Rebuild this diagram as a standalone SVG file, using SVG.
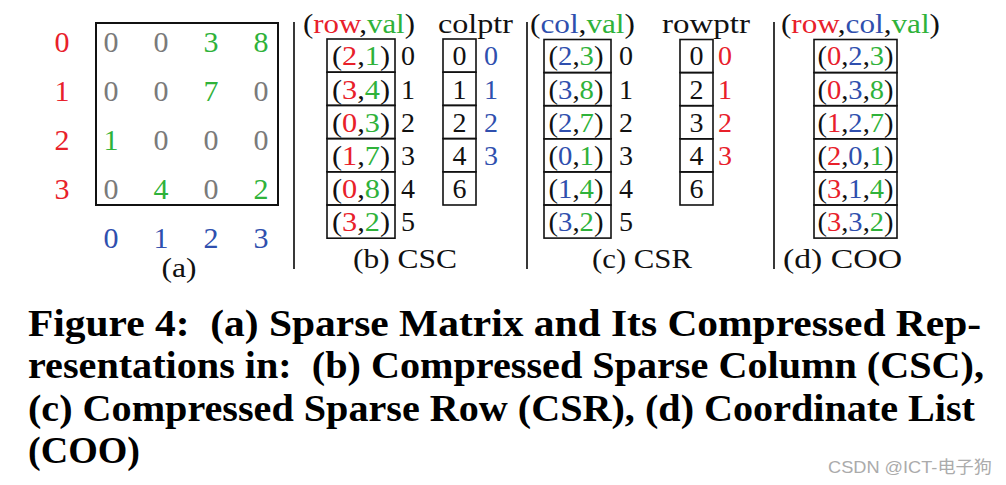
<svg xmlns="http://www.w3.org/2000/svg" width="1006" height="485" viewBox="0 0 1006 485">
<style>
text{font-family:"Liberation Serif","Times New Roman",serif;fill:#111}
.m{font-size:30px;text-anchor:middle}
.s{font-size:28px;text-anchor:middle}
.h{font-size:27px}
.r{fill:#e8202a}
.g{fill:#2fb23a}
.b{fill:#2f4fae}
.gr{fill:#7a7a7a}
.box{fill:none;stroke:#111;stroke-width:1.6}
.sep{stroke:#222;stroke-width:1.8}
.cap{font-size:38px;font-weight:bold;fill:#000;white-space:pre}
.wm{font-family:"Liberation Sans","Noto Sans CJK SC",sans-serif;font-size:17px;fill:#ababab}
</style>
<rect width="1006" height="485" fill="#fff"/>

<g id="separators">
<line class="sep" x1="294" y1="22" x2="294" y2="269"/>
<line class="sep" x1="527" y1="22" x2="527" y2="269"/>
<line class="sep" x1="774" y1="22" x2="774" y2="269"/>
</g>

<g id="matrix">
<rect x="96" y="23" width="182" height="182" fill="none" stroke="#111" stroke-width="2"/>
<text class="m r" x="62" y="51.5">0</text>
<text class="m r" x="62" y="100.8">1</text>
<text class="m r" x="62" y="150.1">2</text>
<text class="m r" x="62" y="199.4">3</text>
<text class="m gr" x="111" y="51.5">0</text><text class="m gr" x="161" y="51.5">0</text><text class="m g" x="211" y="51.5">3</text><text class="m g" x="261" y="51.5">8</text>
<text class="m gr" x="111" y="100.8">0</text><text class="m gr" x="161" y="100.8">0</text><text class="m g" x="211" y="100.8">7</text><text class="m gr" x="261" y="100.8">0</text>
<text class="m g" x="111" y="150.1">1</text><text class="m gr" x="161" y="150.1">0</text><text class="m gr" x="211" y="150.1">0</text><text class="m gr" x="261" y="150.1">0</text>
<text class="m gr" x="111" y="199.4">0</text><text class="m g" x="161" y="199.4">4</text><text class="m gr" x="211" y="199.4">0</text><text class="m g" x="261" y="199.4">2</text>
<text class="m b" x="111" y="248">0</text><text class="m b" x="161" y="248">1</text><text class="m b" x="211" y="248">2</text><text class="m b" x="261" y="248">3</text>
<text class="s" x="179" y="277" textLength="35" lengthAdjust="spacingAndGlyphs">(a)</text>
</g>

<g id="csc">
<text class="h" x="303" y="33" textLength="112" lengthAdjust="spacingAndGlyphs">(<tspan class="r">row</tspan>,<tspan class="g">val</tspan>)</text>
<text class="h" x="438" y="33" textLength="75" lengthAdjust="spacingAndGlyphs">colptr</text>
<rect class="box" x="327" y="39" width="68" height="33.2"/>
<rect class="box" x="327" y="72.2" width="68" height="33.2"/>
<rect class="box" x="327" y="105.4" width="68" height="33.2"/>
<rect class="box" x="327" y="138.6" width="68" height="33.2"/>
<rect class="box" x="327" y="171.8" width="68" height="33.2"/>
<rect class="box" x="327" y="205" width="68" height="33.2"/>
<text class="s" x="361" y="65.3" textLength="58" lengthAdjust="spacingAndGlyphs">(<tspan class="r">2</tspan>,<tspan class="g">1</tspan>)</text>
<text class="s" x="361" y="98.5" textLength="58" lengthAdjust="spacingAndGlyphs">(<tspan class="r">3</tspan>,<tspan class="g">4</tspan>)</text>
<text class="s" x="361" y="131.7" textLength="58" lengthAdjust="spacingAndGlyphs">(<tspan class="r">0</tspan>,<tspan class="g">3</tspan>)</text>
<text class="s" x="361" y="164.9" textLength="58" lengthAdjust="spacingAndGlyphs">(<tspan class="r">1</tspan>,<tspan class="g">7</tspan>)</text>
<text class="s" x="361" y="198.1" textLength="58" lengthAdjust="spacingAndGlyphs">(<tspan class="r">0</tspan>,<tspan class="g">8</tspan>)</text>
<text class="s" x="361" y="231.3" textLength="58" lengthAdjust="spacingAndGlyphs">(<tspan class="r">3</tspan>,<tspan class="g">2</tspan>)</text>
<text class="s" x="408" y="65.3">0</text><text class="s" x="408" y="98.5">1</text><text class="s" x="408" y="131.7">2</text><text class="s" x="408" y="164.9">3</text><text class="s" x="408" y="198.1">4</text><text class="s" x="408" y="231.3">5</text>
<rect class="box" x="443" y="39" width="33" height="33.2"/>
<rect class="box" x="443" y="72.2" width="33" height="33.2"/>
<rect class="box" x="443" y="105.4" width="33" height="33.2"/>
<rect class="box" x="443" y="138.6" width="33" height="33.2"/>
<rect class="box" x="443" y="171.8" width="33" height="33.2"/>
<text class="s" x="459.5" y="65.3">0</text><text class="s" x="459.5" y="98.5">1</text><text class="s" x="459.5" y="131.7">2</text><text class="s" x="459.5" y="164.9">4</text><text class="s" x="459.5" y="198.1">6</text>
<text class="s b" x="491" y="65.3">0</text><text class="s b" x="491" y="98.5">1</text><text class="s b" x="491" y="131.7">2</text><text class="s b" x="491" y="164.9">3</text>
<text class="s" x="405" y="268" textLength="104" lengthAdjust="spacingAndGlyphs">(b) CSC</text>
</g>

<g id="csr">
<text class="h" x="530" y="33" textLength="105" lengthAdjust="spacingAndGlyphs">(<tspan class="b">col</tspan>,<tspan class="g">val</tspan>)</text>
<text class="h" x="662" y="33" textLength="88" lengthAdjust="spacingAndGlyphs">rowptr</text>
<rect class="box" x="544" y="39.5" width="67" height="33.1"/>
<rect class="box" x="544" y="72.6" width="67" height="33.1"/>
<rect class="box" x="544" y="105.7" width="67" height="33.1"/>
<rect class="box" x="544" y="138.8" width="67" height="33.1"/>
<rect class="box" x="544" y="171.9" width="67" height="33.1"/>
<rect class="box" x="544" y="205" width="67" height="33.1"/>
<text class="s" x="576" y="65.3" textLength="55" lengthAdjust="spacingAndGlyphs">(<tspan class="b">2</tspan>,<tspan class="g">3</tspan>)</text>
<text class="s" x="576" y="98.5" textLength="55" lengthAdjust="spacingAndGlyphs">(<tspan class="b">3</tspan>,<tspan class="g">8</tspan>)</text>
<text class="s" x="576" y="131.7" textLength="55" lengthAdjust="spacingAndGlyphs">(<tspan class="b">2</tspan>,<tspan class="g">7</tspan>)</text>
<text class="s" x="576" y="164.9" textLength="55" lengthAdjust="spacingAndGlyphs">(<tspan class="b">0</tspan>,<tspan class="g">1</tspan>)</text>
<text class="s" x="576" y="198.1" textLength="55" lengthAdjust="spacingAndGlyphs">(<tspan class="b">1</tspan>,<tspan class="g">4</tspan>)</text>
<text class="s" x="576" y="231.3" textLength="55" lengthAdjust="spacingAndGlyphs">(<tspan class="b">3</tspan>,<tspan class="g">2</tspan>)</text>
<text class="s" x="626" y="65.3">0</text><text class="s" x="626" y="98.5">1</text><text class="s" x="626" y="131.7">2</text><text class="s" x="626" y="164.9">3</text><text class="s" x="626" y="198.1">4</text><text class="s" x="626" y="231.3">5</text>
<rect class="box" x="680" y="39.5" width="33" height="33.1"/>
<rect class="box" x="680" y="72.6" width="33" height="33.1"/>
<rect class="box" x="680" y="105.7" width="33" height="33.1"/>
<rect class="box" x="680" y="138.8" width="33" height="33.1"/>
<rect class="box" x="680" y="171.9" width="33" height="33.1"/>
<text class="s" x="696.5" y="65.3">0</text><text class="s" x="696.5" y="98.5">2</text><text class="s" x="696.5" y="131.7">3</text><text class="s" x="696.5" y="164.9">4</text><text class="s" x="696.5" y="198.1">6</text>
<text class="s r" x="725" y="65.3">0</text><text class="s r" x="725" y="98.5">1</text><text class="s r" x="725" y="131.7">2</text><text class="s r" x="725" y="164.9">3</text>
<text class="s" x="642" y="268" textLength="100" lengthAdjust="spacingAndGlyphs">(c) CSR</text>
</g>

<g id="coo">
<text class="h" x="781" y="33" textLength="159" lengthAdjust="spacingAndGlyphs">(<tspan class="r">row</tspan>,<tspan class="b">col</tspan>,<tspan class="g">val</tspan>)</text>
<rect class="box" x="814" y="39.5" width="83" height="33.1"/>
<rect class="box" x="814" y="72.6" width="83" height="33.1"/>
<rect class="box" x="814" y="105.7" width="83" height="33.1"/>
<rect class="box" x="814" y="138.8" width="83" height="33.1"/>
<rect class="box" x="814" y="171.9" width="83" height="33.1"/>
<rect class="box" x="814" y="205" width="83" height="33.1"/>
<text class="s" x="855.5" y="65.3" textLength="76" lengthAdjust="spacingAndGlyphs">(<tspan class="r">0</tspan>,<tspan class="b">2</tspan>,<tspan class="g">3</tspan>)</text>
<text class="s" x="855.5" y="98.5" textLength="76" lengthAdjust="spacingAndGlyphs">(<tspan class="r">0</tspan>,<tspan class="b">3</tspan>,<tspan class="g">8</tspan>)</text>
<text class="s" x="855.5" y="131.7" textLength="76" lengthAdjust="spacingAndGlyphs">(<tspan class="r">1</tspan>,<tspan class="b">2</tspan>,<tspan class="g">7</tspan>)</text>
<text class="s" x="855.5" y="164.9" textLength="76" lengthAdjust="spacingAndGlyphs">(<tspan class="r">2</tspan>,<tspan class="b">0</tspan>,<tspan class="g">1</tspan>)</text>
<text class="s" x="855.5" y="198.1" textLength="76" lengthAdjust="spacingAndGlyphs">(<tspan class="r">3</tspan>,<tspan class="b">1</tspan>,<tspan class="g">4</tspan>)</text>
<text class="s" x="855.5" y="231.3" textLength="76" lengthAdjust="spacingAndGlyphs">(<tspan class="r">3</tspan>,<tspan class="b">3</tspan>,<tspan class="g">2</tspan>)</text>
<text class="s" x="842.5" y="268" textLength="119" lengthAdjust="spacingAndGlyphs">(d) COO</text>
</g>

<g id="caption">
<text class="cap" x="28" y="336" textLength="953" lengthAdjust="spacingAndGlyphs">Figure 4:  (a) Sparse Matrix and Its Compressed Rep-</text>
<text class="cap" x="28" y="378" textLength="956" lengthAdjust="spacingAndGlyphs">resentations in:  (b) Compressed Sparse Column (CSC),</text>
<text class="cap" x="28" y="421" textLength="947" lengthAdjust="spacingAndGlyphs">(c) Compressed Sparse Row (CSR), (d) Coordinate List</text>
<text class="cap" x="28" y="463" textLength="112" lengthAdjust="spacingAndGlyphs">(COO)</text>
</g>

<g id="watermark">
<text class="wm" x="828" y="473" textLength="164" lengthAdjust="spacingAndGlyphs">CSDN @ICT-电子狗</text>
</g>
</svg>
